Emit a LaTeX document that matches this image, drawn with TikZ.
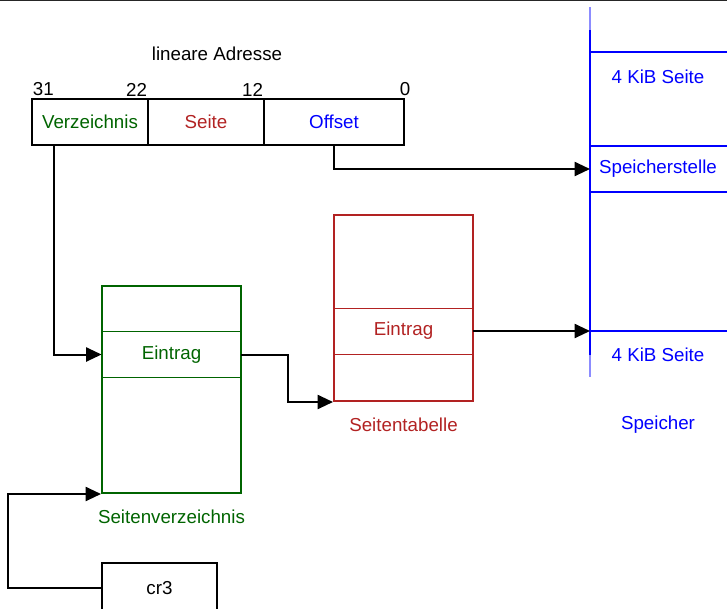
\documentclass[tikz,border=0pt]{standalone}
\usepackage{fontspec}
\setmainfont{Liberation Sans}
\usepackage{xcolor}
\usepackage{tikz}
\usetikzlibrary{arrows.meta,positioning}
\definecolor{pdgreen}{HTML}{006400}
\definecolor{ptred}{HTML}{B22222}
\definecolor{memblue}{HTML}{0000FF}

\begin{document}
\begin{tikzpicture}[
  x=0.3mm, y=-0.3mm,
  every node/.style={font=\fontsize{16}{19}\selectfont},
  field/.style={rectangle, draw, line width=1.7pt, minimum height=13.8mm, inner sep=0pt},
  bit/.style={inner sep=1.5pt},
  tablebox/.style={rectangle, draw, line width=1.7pt, minimum width=41.7mm, inner sep=0pt},
  entry/.style={rectangle, draw, line width=0.8pt, minimum width=41.7mm, minimum height=14mm, inner sep=0pt},
  memline/.style={memblue, line width=1.7pt},
  memtext/.style={text=memblue},
  edge/.style={-{Triangle[length=4.6mm, width=4.2mm]}, line width=1.7pt, black},
]
  \useasboundingbox (0,0) rectangle (727,608);
  \draw[line width=1.5pt, black!85] (0,0.5) -- (727,0.5);

  \node (lin) at (217,54) {lineare Adresse};
  \node[field, minimum width=34.8mm, text=pdgreen] (dir) at (90,122) {Verzeichnis};
  \node[field, minimum width=34.8mm, text=ptred] (pg) at (206,122) {Seite};
  \node[field, minimum width=42mm, text=memblue] (ofs) at (334,122) {Offset};
  \node[bit, anchor=south west] (b31) at (dir.north west) {31};
  \node[bit, anchor=south east] (b22) at (dir.north east) {22};
  \node[bit, anchor=south east] (b12) at (pg.north east) {12};
  \node[bit, anchor=south] (b0) at (ofs.north east) {0};

  \node[tablebox, draw=pdgreen, minimum height=62.1mm] (pd) at (171.5,389.5) {};
  \node[entry, draw=pdgreen, text=pdgreen] (pde) at (171.5,354.5) {Eintrag};
  \node[text=pdgreen] (pdl) at (171.5,517) {Seitenverzeichnis};

  \node[tablebox, draw=ptred, minimum height=55.8mm] (pt) at (403.5,308) {};
  \node[entry, draw=ptred, text=ptred, minimum height=13.8mm] (pte) at (403.5,331) {Eintrag};
  \node[text=ptred] (ptl) at (403.5,425) {Seitentabelle};

  \node[field, minimum width=34.5mm, minimum height=15mm] (cr) at (159.5,588) {cr3};

  \coordinate (memtop) at (590,7);
  \coordinate (membot) at (590,377);
  \draw[memblue!45, line width=2.5pt] (memtop) -- (590,30);
  \draw[memblue!45, line width=2.5pt] (590,355) -- (membot);
  \draw[memblue, line width=2.5pt] (590,30) -- (590,355);
  \draw[memline] (590,52) -- (727,52);
  \draw[memline] (590,146) -- (727,146);
  \draw[memline] (590,192) -- (727,192);
  \draw[memline] (590,331) -- (727,331);
  \node[memtext] (pg1) at (658,77) {4 KiB Seite};
  \node[memtext] (loc) at (658,169) {Speicherstelle};
  \node[memtext] (pg2) at (658,355) {4 KiB Seite};
  \node[memtext] (mem) at (658,425) {Speicher};

  \draw[edge] ([xshift=6.9mm]dir.south west) |- (pde.west);
  \draw[edge] (ofs.south) |- (memtop |- loc);
  \draw[edge] (pde.east) -- ++(47,0) |- (pt.south west);
  \draw[edge] (pte.east) -- (memtop |- pte);
  \draw[edge] (cr.west) -- ++(-93,0) |- (pd.south west);
\end{tikzpicture}
\end{document}
